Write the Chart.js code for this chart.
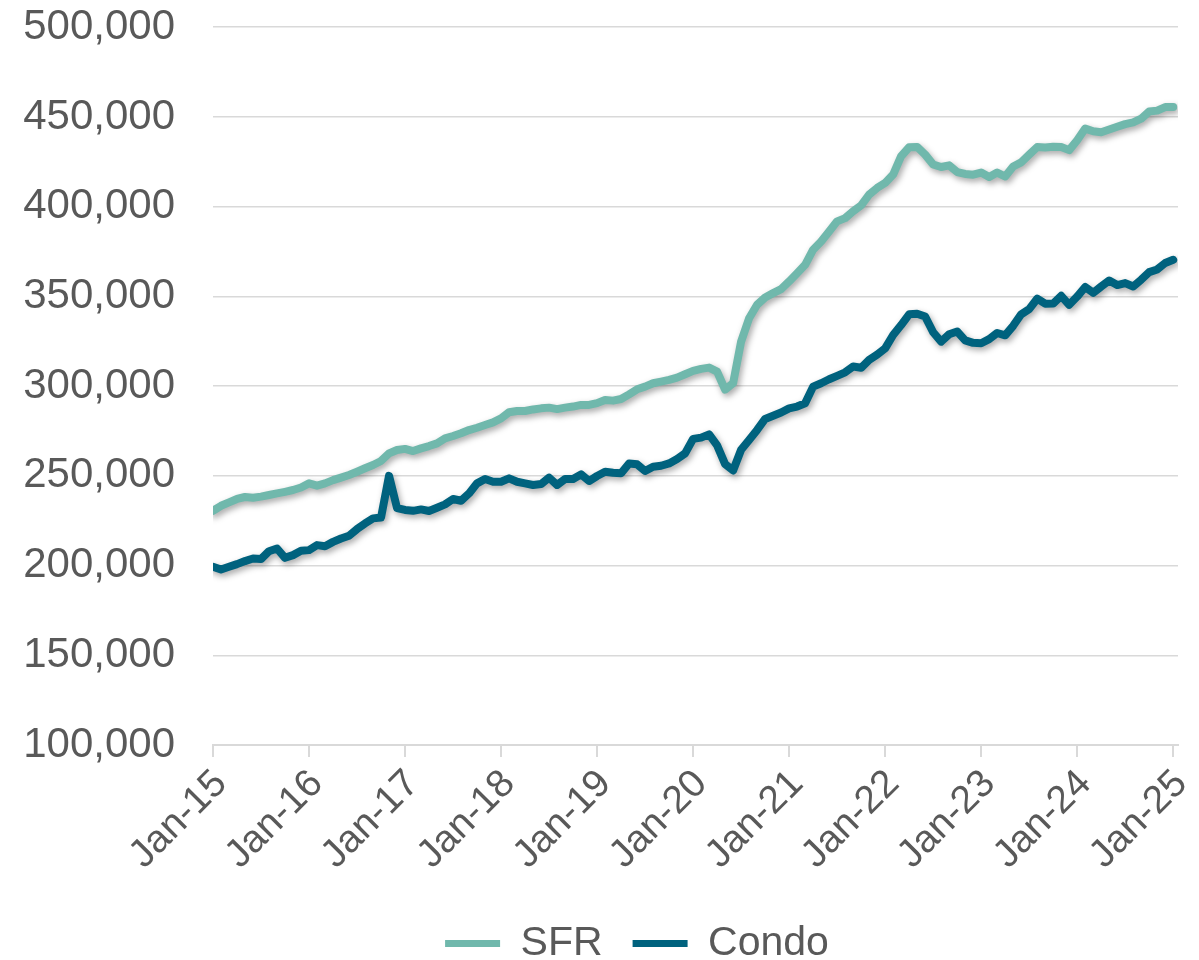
<!DOCTYPE html>
<html>
<head>
<meta charset="utf-8">
<script src="https://cdn.jsdelivr.net/npm/chart.js@4.4.1/dist/chart.umd.min.js"></script>
<style>
  html, body { margin: 0; padding: 0; background: #fff; }
</style>
</head>
<body>
<canvas id="chart1"></canvas>
<script>
// tick labels on the x axis (one per January)
const yearLabels = ['Jan-15', 'Jan-16', 'Jan-17', 'Jan-18', 'Jan-19', 'Jan-20',
  'Jan-21', 'Jan-22', 'Jan-23', 'Jan-24', 'Jan-25'];

const seriesNames = ['SFR', 'Condo'];

// monthly values, Jan-15 .. Jan-25
const sfr = [
  230500, 233300, 235200, 237100, 238200, 237800, 238400, 239300, 240200, 241100, 242100, 243500,
  245800, 244500, 245800, 247600, 249000, 250500, 252300, 254200, 256000, 258300, 262500, 264400,
  265000, 263800, 265300, 266600, 268100, 270900, 272200, 273700, 275500, 276800, 278300, 279800,
  282000, 285400, 286100, 286100, 287000, 287600, 288000, 287200, 288000, 288600, 289500, 289500,
  290500, 292300, 291900, 292800, 295400, 298200, 299700, 301600, 302500, 303500, 304700, 306600,
  308500, 309600, 310300, 308100, 298000, 301600, 324800, 337800, 345300, 349400, 351800, 354000,
  358300, 362900, 367600, 376000, 380600, 386200, 391800, 393600, 397400, 400700, 406700, 410400,
  413200, 417900, 428100, 433100, 433300, 429000, 423500, 422100, 423000, 419300, 418200, 417800,
  419000, 416500, 419000, 416800, 422400, 424700, 429000, 433200, 433000, 433400, 433200, 431500,
  437000, 443500, 442000, 441500, 443000, 444500, 446000, 447000, 449000, 453000, 453500, 455500,
  455500
];

const condo = [
  199300, 197800, 199300, 200800, 202500, 203900, 203600, 208000, 209500, 204300, 205800, 208200,
  208600, 211400, 210800, 213200, 215100, 216600, 220300, 223500, 226300, 226800, 250000, 232000,
  231000, 230500, 231300, 230400, 232200, 234100, 237100, 236100, 240200, 245800, 248200, 246700,
  246700, 248600, 246700, 245800, 244900, 245400, 249000, 244900, 248200, 248200, 250800, 247100,
  249900, 252300, 251700, 251400, 256900, 256400, 252700, 255100, 255600, 256900, 259400, 262500,
  270600, 271300, 273100, 267000, 256500, 253000, 264500, 270000, 275600, 281700, 283500, 285300,
  287600, 288600, 290400, 299700, 301600, 303800, 305700, 307700, 310900, 310200, 314600, 317500,
  321000, 328500, 334000, 340000, 340300, 338800, 330000, 324800, 328900, 330400, 325500, 324100,
  323900, 326200, 329600, 328300, 333600, 340000, 342900, 348700, 345900, 346000, 350300, 345300,
  349900, 355200, 352000, 355500, 358800, 356300, 357400, 355500, 359300, 363500, 365000, 368600,
  370400
];

const colors = ['#70b8ac', '#00627e'];
const textColor = '#595959';
const fontFamily = 'Liberation Sans, Arial, sans-serif';

const canvas = document.getElementById('chart1');
canvas.width = 1199;
canvas.height = 960;
const ctx = canvas.getContext('2d');

function toPoints(values) {
  return values.map((v, i) => ({ x: i, y: v }));
}

// soft drop shadow under the lines, like the original
const shadowPlugin = {
  id: 'lineShadow',
  beforeDatasetsDraw(chart) {
    const c = chart.ctx;
    c.save();
    c.shadowColor = 'rgba(0, 0, 0, 0.35)';
    c.shadowBlur = 6;
    c.shadowOffsetX = 2;
    c.shadowOffsetY = 3;
  },
  afterDatasetsDraw(chart) {
    chart.ctx.restore();
  },
};

// move the legend a bit right and down
const legendShift = {
  id: 'legendShift',
  afterLayout(chart) {
    const lg = chart.legend;
    lg.left += 48;
    lg.right += 48;
    lg.top += 14;
    lg.bottom += 14;
  },
};

new Chart(ctx, {
  type: 'line',
  data: {
    datasets: [
      {
        label: seriesNames[0],
        data: toPoints(sfr),
        borderColor: colors[0],
        backgroundColor: colors[0],
        borderWidth: 8,
        pointRadius: 0,
        tension: 0,
        borderJoinStyle: 'round',
        borderCapStyle: 'round',
      },
      {
        label: seriesNames[1],
        data: toPoints(condo),
        borderColor: colors[1],
        backgroundColor: colors[1],
        borderWidth: 8,
        pointRadius: 0,
        tension: 0,
        borderJoinStyle: 'round',
        borderCapStyle: 'round',
      },
    ],
  },
  options: {
    responsive: false,
    maintainAspectRatio: false,
    animation: false,
    layout: {
      padding: { left: 0, right: 21, top: 0, bottom: 0 },
    },
    plugins: {
      tooltip: { enabled: false },
      legend: {
        position: 'bottom',
        onClick: () => {},
        labels: {
          boxWidth: 55,
          boxHeight: 7,
          padding: 30,
          color: textColor,
          font: { family: fontFamily, size: 41 },
          generateLabels: (chart) =>
            chart.data.datasets.map((ds, i) => ({
              text: ds.label,
              fillStyle: ds.borderColor,
              strokeStyle: ds.borderColor,
              lineWidth: 0,
              datasetIndex: i,
              hidden: false,
              fontColor: textColor,
            })),
        },
      },
    },
    scales: {
      x: {
        type: 'linear',
        min: 0,
        max: 120.6,
        afterBuildTicks: (scale) => {
          scale.ticks = yearLabels.map((t, k) => ({ value: k * 12 }));
        },
        afterFit: (scale) => {
          scale.height = 134;
          scale.paddingLeft = 0;
          scale.paddingRight = 0;
        },
        ticks: {
          autoSkip: false,
          maxRotation: 45,
          minRotation: 45,
          padding: 4,
          labelOffset: 8,
          color: textColor,
          font: { family: fontFamily, size: 39 },
          callback: (value, index) => yearLabels[index],
        },
        grid: {
          drawOnChartArea: false,
          drawTicks: true,
          tickLength: 12,
          color: '#d9d9d9',
          lineWidth: 2,
        },
        border: { color: '#d9d9d9', width: 2 },
      },
      y: {
        min: 100000,
        max: 500000,
        afterFit: (scale) => {
          scale.width = 213;
        },
        ticks: {
          stepSize: 50000,
          padding: 2,
          color: textColor,
          font: { family: fontFamily, size: 42 },
          callback: (value) => value.toLocaleString('en-US'),
        },
        grid: {
          color: '#d9d9d9',
          lineWidth: 1.5,
          drawTicks: true,
          tickLength: 36,
          tickColor: 'rgba(0,0,0,0)',
        },
        border: { display: false },
      },
    },
  },
  plugins: [shadowPlugin, legendShift],
});
</script>
</body>
</html>
